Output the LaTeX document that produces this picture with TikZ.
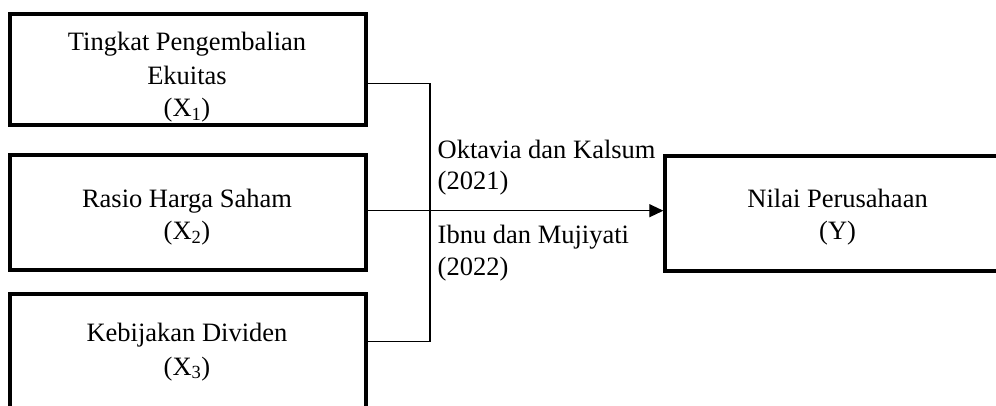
\documentclass[tikz,border=0pt]{standalone}
\usepackage{fontspec}
\setmainfont{Liberation Serif}
\usetikzlibrary{arrows.meta}
\begin{document}
\begin{tikzpicture}[x=1pt,y=-1pt,
  varbox/.style={draw=black,line width=3.8pt,inner sep=0pt,minimum width=356pt},
  txt/.style={inner sep=0pt,anchor=base,font=\fontsize{26.5pt}{33pt}\selectfont},
  lbl/.style={inner sep=0pt,anchor=base west,font=\fontsize{26.5pt}{33pt}\selectfont},
  conn/.style={draw=black,line width=1.1pt}]
\useasboundingbox (0,0) rectangle (996,406);
\begin{scope}
\clip (0,0) rectangle (996,406);
% boxes
\node[varbox,minimum height=111.3pt] (x1) at (188,69.7) {};
\node[varbox,minimum height=114.7pt] (x2) at (188,212.7) {};
\node[varbox,minimum height=115pt] (x3) at (188,351.3) {};
\node[varbox,minimum width=344.7pt,minimum height=115pt] (y) at (837.6,213.5) {};
\end{scope}
% box texts
\node[txt] (t1a) at (187,51) {Tingkat Pengembalian};
\node[txt] (t1b) at (187,84.3) {Ekuitas};
\node[txt] (t1c) at (187,116.7) {(X\textsubscript{1})};
\node[txt] (t2a) at (187,207.3) {Rasio Harga Saham};
\node[txt] (t2b) at (187,240) {(X\textsubscript{2})};
\node[txt] (t3a) at (187,341.7) {Kebijakan Dividen};
\node[txt] (t3b) at (187,375) {(X\textsubscript{3})};
\node[txt] (tya) at (837.6,207.3) {Nilai Perusahaan};
\node[txt] (tyb) at (837.6,240) {(Y)};
% connectors
\coordinate (j1) at (430,83.3);
\coordinate (j2) at (430,210.7);
\coordinate (j3) at (430,341.7);
\draw[conn] (x1.east |- j1) -- (j1) -- (j3) -- (x3.east |- j3);
\draw[conn,-{Triangle[length=14pt,width=13pt]}] (x2.east |- j2) -- (y.west |- j2);
% labels
\node[lbl] (l1) at (437.5,158.3) {Oktavia dan Kalsum};
\node[lbl] (l2) at (437.5,190) {(2021)};
\node[lbl] (l3) at (437.5,243.3) {Ibnu dan Mujiyati};
\node[lbl] (l4) at (437.5,275) {(2022)};
\end{tikzpicture}
\end{document}
